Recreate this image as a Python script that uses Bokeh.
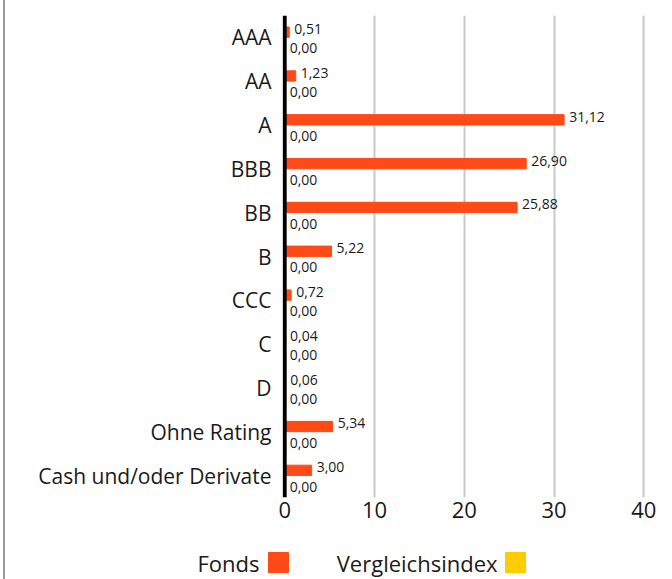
from bokeh.plotting import figure
from bokeh.models import Range1d, FixedTicker, Span, ColumnDataSource
from bokeh.layouts import column
from bokeh.core.properties import value
from bokeh.embed import file_html
from bokeh.resources import INLINE

categories = ["AAA", "AA", "A", "BBB", "BB", "B", "CCC", "C", "D", "Ohne Rating", "Cash und/oder Derivate"]
fonds = [0.51, 1.23, 31.12, 26.90, 25.88, 5.22, 0.72, 0.04, 0.06, 5.34, 3.00]
index_vals = [0.00] * 11
series_names = ["Fonds", "Vergleichsindex"]
series_colors = ["#FF4A17", "#FFCC00"]
x_ticks = [0, 10, 20, 30, 40]

FONT = "Open Sans"
TXT = "#1a1a1a"
ORANGE, YELLOW = series_colors

def fmt(v):
    return f"{v:.2f}".replace(".", ",")

pos = list(range(len(categories)))
src = ColumnDataSource(dict(
    y_f=[i - 0.12 for i in pos],
    y_fl=[i - 0.19 for i in pos],
    y_i=[i + 0.12 for i in pos],
    y_il=[i + 0.25 for i in pos],
    fonds=fonds, idx=index_vals,
    lf=[fmt(v) for v in fonds], li=[fmt(v) for v in index_vals],
))

p = figure(width=672, height=530, output_backend="svg", toolbar_location=None,
           x_range=Range1d(-0.245, 41.63), y_range=Range1d(10.5, -0.5),
           min_border_left=282, min_border_right=14, min_border_top=15, min_border_bottom=33)
p.frame_align = False
p.outline_line_color = None
p.background_fill_color = "white"
p.border_fill_color = None

p.hbar(y="y_f", left=0, right="fonds", height=0.235, color=ORANGE, source=src)
p.hbar(y="y_i", left=0, right="idx", height=0.235, color=YELLOW, source=src)

p.text(x="fonds", y="y_fl", text="lf", source=src, x_offset=5, text_font=value(FONT),
       text_font_size="14px", text_baseline="middle", text_color=TXT)
p.text(x="idx", y="y_il", text="li", source=src, x_offset=5, text_font=value(FONT),
       text_font_size="14px", text_baseline="middle", text_color=TXT)

p.add_layout(Span(location=0, dimension="height", line_color="black", line_width=4))

p.xaxis.ticker = FixedTicker(ticks=x_ticks)
p.xaxis.axis_line_color = None
p.xaxis.major_tick_line_color = None
p.xaxis.minor_tick_line_color = None
p.xaxis.major_label_standoff = -2
p.xaxis.major_label_text_font = FONT
p.xaxis.major_label_text_font_size = "22px"
p.xaxis.major_label_text_color = TXT

p.yaxis.ticker = FixedTicker(ticks=pos)
p.yaxis.major_label_overrides = {i: c for i, c in enumerate(categories)}
p.yaxis.axis_line_color = None
p.yaxis.major_tick_line_color = None
p.yaxis.minor_tick_line_color = None
p.yaxis.major_label_standoff = 5
p.yaxis.major_label_text_font = FONT
p.yaxis.major_label_text_font_size = "21px"
p.yaxis.major_label_text_color = TXT

p.xgrid.ticker = FixedTicker(ticks=x_ticks[1:])
p.xgrid.grid_line_color = "#C8C8C8"
p.xgrid.grid_line_width = 2
p.ygrid.grid_line_color = None

# legend strip
lg = figure(width=672, height=49, output_backend="svg", toolbar_location=None,
            x_range=Range1d(0, 672), y_range=Range1d(49, 0),
            min_border_left=0, min_border_right=0, min_border_top=0, min_border_bottom=0)
lg.frame_align = False
lg.axis.visible = False
lg.grid.visible = False
lg.outline_line_color = None
lg.background_fill_color = None
lg.border_fill_color = None
lsrc = ColumnDataSource(dict(name=series_names, color=series_colors,
                             tx=[259, 497], sx=[278, 515]))
lg.text(x="tx", y=32, text="name", source=lsrc, text_align="right", text_baseline="middle",
        text_font=value(FONT), text_font_size="22px", text_color=TXT)
lg.rect(x="sx", y=32, width=20, height=20, color="color", source=lsrc)

layout = column(p, lg, spacing=0)
layout.styles = {"background": "linear-gradient(to right, white 0px, white 3px, #9a9a9a 3px, #9a9a9a 5px, white 5px)"}
open("out.html", "w").write(file_html(layout, INLINE))
